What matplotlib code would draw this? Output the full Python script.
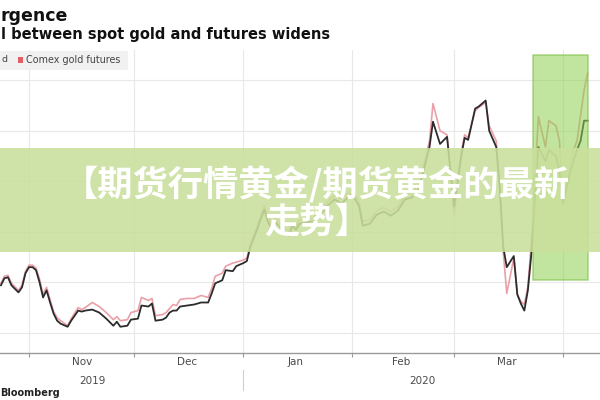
import matplotlib
matplotlib.use("Agg")
import matplotlib.pyplot as plt
import matplotlib.dates as mdates
import matplotlib.transforms as mtrans
from matplotlib.patches import Rectangle
import numpy as np
import pandas as pd

# ---------------- data ----------------
dates = [
    "2019-10-24", "2019-10-25", "2019-10-26", "2019-10-27", "2019-10-29", "2019-10-30",
    "2019-10-31", "2019-11-01", "2019-11-02", "2019-11-03", "2019-11-04", "2019-11-05",
    "2019-11-06", "2019-11-07", "2019-11-08", "2019-11-09", "2019-11-10", "2019-11-12",
    "2019-11-13", "2019-11-15", "2019-11-16", "2019-11-17", "2019-11-19", "2019-11-21",
    "2019-11-23", "2019-11-25", "2019-11-26", "2019-11-27", "2019-11-29", "2019-11-30",
    "2019-12-02", "2019-12-03", "2019-12-05", "2019-12-06", "2019-12-07", "2019-12-09",
    "2019-12-10", "2019-12-11", "2019-12-12", "2019-12-13", "2019-12-14", "2019-12-16",
    "2019-12-18", "2019-12-20", "2019-12-22", "2019-12-23", "2019-12-24", "2019-12-26",
    "2019-12-27", "2019-12-29", "2019-12-30", "2020-01-01", "2020-01-02", "2020-01-03",
    "2020-01-05", "2020-01-06", "2020-01-07", "2020-01-08", "2020-01-09", "2020-01-10",
    "2020-01-13", "2020-01-14", "2020-01-15", "2020-01-16", "2020-01-17", "2020-01-20",
    "2020-01-21", "2020-01-22", "2020-01-23", "2020-01-24", "2020-01-25", "2020-01-27",
    "2020-01-29", "2020-01-31", "2020-02-01", "2020-02-03", "2020-02-04", "2020-02-06",
    "2020-02-08", "2020-02-10", "2020-02-12", "2020-02-14", "2020-02-16", "2020-02-18",
    "2020-02-20", "2020-02-21", "2020-02-23", "2020-02-24", "2020-02-26", "2020-02-28",
    "2020-03-01", "2020-03-03", "2020-03-04", "2020-03-05", "2020-03-07", "2020-03-08",
    "2020-03-10", "2020-03-11", "2020-03-13", "2020-03-14", "2020-03-15", "2020-03-16",
    "2020-03-18", "2020-03-19", "2020-03-20", "2020-03-21", "2020-03-22", "2020-03-23",
    "2020-03-25", "2020-03-27", "2020-03-28", "2020-03-30", "2020-03-31", "2020-04-01",
    "2020-04-03", "2020-04-04", "2020-04-05", "2020-04-06", "2020-04-07", "2020-04-08",
]
spot_gold = [
    1497, 1504, 1505, 1497, 1490, 1495,
    1509, 1515, 1515, 1512, 1500, 1485,
    1492, 1480, 1469, 1462, 1459, 1456,
    1462, 1472, 1471, 1472, 1473, 1470,
    1464, 1457, 1461, 1456, 1457, 1463,
    1464, 1477, 1476, 1479, 1462, 1463,
    1465, 1470, 1472, 1472, 1476, 1477,
    1478, 1480, 1480, 1489, 1499, 1502,
    1512, 1511, 1516, 1519, 1521, 1535,
    1553, 1563, 1572, 1560, 1553, 1560,
    1549, 1546, 1556, 1552, 1558, 1560,
    1560, 1565, 1568, 1571, 1576, 1582,
    1578, 1585, 1588, 1575, 1556, 1558,
    1567, 1570, 1566, 1571, 1582, 1584,
    1593, 1606, 1634, 1659, 1637, 1644,
    1575, 1624, 1643, 1641, 1672, 1674,
    1680, 1650, 1634, 1594, 1535, 1515,
    1526, 1488, 1479, 1472, 1492, 1528,
    1634, 1620, 1631, 1625, 1610, 1578,
    1608, 1620, 1631, 1640, 1660, 1660,
]
comex_futures = [
    1499, 1506, 1507, 1499, 1492, 1497,
    1511, 1517, 1517, 1514, 1503, 1488,
    1495, 1483, 1471, 1465, 1462, 1457,
    1464, 1475, 1473, 1475, 1480, 1476,
    1470, 1463, 1466, 1462, 1463, 1470,
    1472, 1485, 1482, 1484, 1467, 1468,
    1470, 1474, 1478, 1477, 1483, 1484,
    1484, 1487, 1485, 1494, 1506, 1509,
    1516, 1519, 1520, 1522, 1524, 1538,
    1556, 1566, 1576, 1564, 1557, 1564,
    1553, 1550, 1560, 1556, 1562, 1564,
    1564, 1569, 1572, 1575, 1580, 1586,
    1582, 1589, 1592, 1579, 1560, 1562,
    1571, 1574, 1570, 1575, 1586, 1588,
    1597, 1612, 1640, 1677, 1650, 1646,
    1566, 1628, 1646, 1643, 1670, 1673,
    1678, 1655, 1640, 1594, 1530, 1489,
    1524, 1488, 1481, 1478, 1495, 1540,
    1664, 1634, 1660, 1655, 1640, 1580,
    1612, 1631, 1640, 1665, 1690, 1707,
]
month_starts = ["2019-11-01", "2019-12-01", "2020-01-01", "2020-02-01", "2020-03-01", "2020-04-01"]
month_label_dates = ["2019-11-16", "2019-12-16", "2020-01-16", "2020-02-15", "2020-03-16"]
month_labels = ["Nov", "Dec", "Jan", "Feb", "Mar"]
year_label_dates = ["2019-11-19", "2020-02-21"]
year_labels = ["2019", "2020"]
year_separator = "2020-01-01"
y_grid = [1450, 1500, 1550, 1600, 1650, 1700]
highlight_start, highlight_end = "2020-03-23 10:00", "2020-04-08 05:00"
highlight_low, highlight_high = 1502, 1725

title_text = "rgence"
subtitle_text = "l between spot gold and futures widens"
legend_cut = "d"
legend_futures = "Comex gold futures"
source_text = "Bloomberg"
banner_text = "【期货行情黄金/期货黄金的最新\n走势】"

# ---------------- figure ----------------
fig = plt.figure(figsize=(6, 4), dpi=100)
fig.patch.set_facecolor("white")
ax = fig.add_axes([0, 47 / 400, 1, 303 / 400])

d = pd.to_datetime(dates)
ax.plot(d, comex_futures, color="#eba0a9", lw=1.2, zorder=2)
ax.plot(d, spot_gold, color="#2c2c2c", lw=1.3, zorder=2.1)

x0 = mdates.date2num(pd.Timestamp("2019-11-01"))
ax.set_xlim(x0 - 8.26, x0 + 162.54)
ax.set_ylim(1430, 1730)

ax.set_yticks(y_grid)
ax.tick_params(axis="y", left=False, labelleft=False)
ax.set_xticks(pd.to_datetime(month_starts))
ax.set_xticklabels([""] * len(month_starts))
ax.set_xticks(pd.to_datetime(month_label_dates), minor=True)
ax.set_xticklabels(month_labels, minor=True)
ax.tick_params(axis="x", which="major", length=3, color="#9a9a9a", width=0.8, direction="out")
ax.tick_params(axis="x", which="minor", length=0, pad=3, labelsize=7.5, labelcolor="#4a4a4a")
ax.grid(True, which="major", color="#e8e8e8", lw=0.8, zorder=0)
for s in ["top", "left", "right"]:
    ax.spines[s].set_visible(False)
ax.spines["bottom"].set_color("#9a9a9a")
ax.spines["bottom"].set_linewidth(1.0)

blend = mtrans.blended_transform_factory(ax.transData, ax.transAxes)
for xd, lab in zip(year_label_dates, year_labels):
    ax.text(pd.Timestamp(xd), -0.092, lab, transform=blend, ha="center", va="center",
            fontsize=7.5, color="#4a4a4a")
sep = pd.Timestamp(year_separator)
ax.plot([sep, sep], [-0.056, -0.122], transform=blend, color="#d0d0d0", lw=0.8, clip_on=False)

# highlight box
hs, he = mdates.date2num(pd.Timestamp(highlight_start)), mdates.date2num(pd.Timestamp(highlight_end))
ax.add_patch(Rectangle((hs, highlight_low), he - hs, highlight_high - highlight_low,
                       facecolor="#8fd14f", alpha=0.55, edgecolor="#78bd3e", lw=1.2, zorder=3))

# titles / legend / source
fig.text(0.001, 1 - 16 / 400, title_text, fontsize=12.5, fontweight="bold", color="#111111",
         ha="left", va="center")
fig.text(0.001, 1 - 35 / 400, subtitle_text, fontsize=10.5, fontweight="bold", color="#111111",
         ha="left", va="center")
fig.add_artist(Rectangle((0, 1 - 70 / 400), 128 / 600, 19 / 400, transform=fig.transFigure,
                         facecolor="#f1f1f1", edgecolor="none", zorder=1))
fig.text(2 / 600, 1 - 60 / 400, legend_cut, fontsize=6.8, color="#444444", ha="left", va="center", zorder=2)
fig.add_artist(Rectangle((18 / 600, 1 - 63 / 400), 5 / 600, 6 / 400, transform=fig.transFigure,
                         facecolor="#e25f63", edgecolor="none", zorder=2))
fig.text(26 / 600, 1 - 60 / 400, legend_futures, fontsize=6.9, color="#444444", ha="left", va="center", zorder=2)
fig.text(0.001, 1 - 393 / 400, source_text, fontsize=7, fontweight="bold", color="#222222",
         ha="left", va="center")

# overlay banner
fig.add_artist(Rectangle((0, 148 / 400), 1, 104 / 400, transform=fig.transFigure,
                         facecolor="#c9e09c", alpha=0.88, edgecolor="none", zorder=5))
fig.text(0.528, 0.494, banner_text, ha="center", va="center", color="white", fontsize=25.4,
         fontweight="bold", family=["Noto Sans CJK SC", "DejaVu Sans"], linespacing=1.05, zorder=6)

fig.savefig("out.png", dpi=100)
